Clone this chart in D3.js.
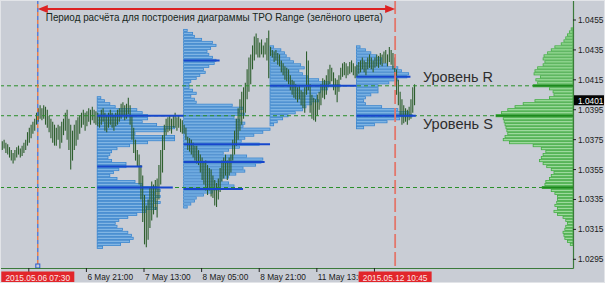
<!DOCTYPE html>
<html>
<head>
<meta charset="utf-8">
<script src="https://cdn.jsdelivr.net/npm/d3@7"></script>
<style>
    body { margin: 0; background: #c9cdd5; }
    svg { display: block; font-family: "Liberation Sans", Arial, sans-serif; }
</style>
</head>
<body>
<svg id="chart" width="605" height="283"></svg>
<script>
// Bars (M30), price x 10000
const barHigh = [
    10375,10374,10375,10373,10372,10370,10368,10366,10368,10370,10371,10369,10371,10373,10375,10380,10383,10385,10387,10389,10393,
    10396,10398,10396,10398,10397,10395,10391,10389,10387,10385,10383,10385,10384,10387,10389,10393,10395,10389,10385,10381,10385,10388,10390,10391,10393,10395,10393,10394,10396,10395,10397,10395,10394,
    10393,10391,10395,10396,10393,10391,10393,10395,10393,10391,10393,10395,10396,10399,10400,10398,10399,10403,10398,10391,10383,10375,10368,10365,10358,10351,10338,10331,10335,10343,10347,10345,10348,10349,10358,10368,10378,10385,10389,10390,10391,10389,10391,10393,10390,10391,10389,10388,
    10385,10383,10377,10376,10375,10373,10371,10371,10368,10365,10363,10360,10361,10358,10356,10355,10351,10348,10346,10349,10356,10361,10363,10365,10361,10363,10365,10375,10381,10389,10396,10402,10407,10410,10413,10422,10430,10432,10438,10444,10446,10443,10440,10442,10438,10440,10443,10448,
    10437,10435,10434,10435,10433,10432,10428,10426,10424,10423,10422,10418,10415,10414,10412,10410,10411,10408,10407,10410,10434,10428,10412,10405,10403,10402,10405,10407,10412,10416,10415,10418,10422,10425,10423,10420,10416,10415,10418,10423,10426,10427,10426,10424,10427,10428,10426,10424,
    10425,10427,10428,10430,10428,10427,10430,10432,10430,10428,10430,10432,10431,10433,10432,10434,10435,10432,10437,10435,10433,10430,10422,10415,10407,10402,10398,10396,10395,10397,10402,10410,10412
];
const barLow = [
    10367,10368,10369,10366,10365,10363,10361,10359,10361,10363,10365,10363,10364,10366,10368,10371,10373,10376,10379,10381,10385,
    10387,10389,10388,10389,10385,10383,10380,10376,10373,10371,10371,10375,10369,10373,10378,10381,10375,10368,10355,10361,10368,10371,10375,10379,10383,10385,10381,10384,10387,10385,10388,10386,10385,
    10384,10383,10385,10387,10381,10380,10383,10385,10383,10381,10384,10385,10387,10389,10391,10388,10389,10392,10385,10375,10366,10361,10357,10345,10335,10320,10305,10303,10308,10316,10321,10325,10328,10323,10335,10345,10353,10368,10378,10380,10381,10379,10383,10383,10381,10383,10380,10379,
    10379,10375,10368,10367,10365,10363,10361,10359,10358,10353,10348,10345,10341,10338,10341,10337,10336,10331,10330,10335,10340,10347,10349,10351,10348,10351,10353,10361,10365,10371,10375,10381,10385,10389,10393,10402,10407,10412,10422,10428,10432,10430,10430,10432,10430,10432,10428,10416,
    10431,10430,10427,10428,10425,10424,10420,10418,10415,10414,10412,10408,10405,10403,10402,10400,10402,10398,10396,10393,10405,10408,10393,10389,10388,10387,10391,10395,10398,10403,10402,10405,10410,10412,10414,10408,10405,10400,10407,10415,10417,10418,10416,10418,10419,10420,10418,10416,
    10417,10419,10420,10422,10420,10418,10422,10423,10422,10420,10423,10424,10423,10425,10424,10426,10426,10424,10427,10425,10422,10417,10405,10398,10391,10385,10386,10387,10385,10388,10389,10393,10398
];
const lastPrice = 1.0401;

// Time axis (bar index -> label)
const timeTickIndex = [16, 48, 80, 112, 144, 176, 208];
const timeTickLabels = ["6 May 05:00", "6 May 21:00", "7 May 13:00", "8 May 05:00", "8 May 21:00", "11 May 13:00", "12 May 05:00"];
const priceTicks = [1.0455, 1.0435, 1.0415, 1.0395, 1.0375, 1.0355, 1.0335, 1.0315, 1.0295];

// Calculation period (bar index)
const periodStart = 21, periodEnd = 219.5;
const periodLabels = ["2015.05.06 07:30", "2015.05.12 10:45"];
const periodTitle = "Период расчёта для построения диаграммы TPO Range (зелёного цвета)";

// Daily TPO profiles (counts per 0.0002 level, from the top)
const dayStart = [54, 102, 150, 198];
const dayTop = [1.0403, 1.0448, 1.0437, 1.0437];
const tpoMay7 = [2,4,7,10,22,25,28,28,25,33,43,38,21,43,43,28,18,11,8,7,6,8,16,16,12,9,7,11,21,25,33,35,32,35,32,35,31,33,27,22,17,12,10,11,14,17,19,20,18,13,3];
const tpoMay8 = [2,5,6,10,16,18,15,13,14,16,18,17,14,11,12,9,7,4,3,3,5,7,4,6,7,27,33,31,34,28,31,34,33,48,44,39,34,32,42,31,25,22,35,44,43,40,33,34,29,25,21,25,28,19,16,11,7,6,4,2];
const tpoMay11 = [2,6,8,9,11,13,17,19,16,18,21,27,33,39,32,28,26,26,27,23,20,18,14,10,7,4,2];
const tpoMay12 = [2,5,8,11,14,14,17,23,25,29,28,23,18,12,12,12,8,5,4,5,14,23,29,31,24,17,10,4];
const pocMay7 = [[1.0391, 48], [1.0357, 25], [1.0343, 42]];
const pocMay8 = [[1.0428, 20], [1.0372, 48], [1.0360, 45], [1.0342, 33]];
const pocMay11 = [[1.0411, 48]];
const pocMay12 = [[1.0417, 30], [1.0391, 33]];

// TPO Range profile over the whole period (green)
const rangeTop = 1.0449;
const rangeTpo = [2,4,6,8,10,13,20,24,28,32,33,31,33,39,42,43,36,41,39,44,26,22,21,26,42,55,64,72,79,85,77,76,75,74,73,72,75,77,70,44,35,30,33,35,37,33,29,24,21,24,26,30,31,34,24,20,17,17,18,20,17,21,17,11,8,6,8,9,11,10,9,6,3];
const rangePoc = [[1.0411, 44], [1.0391, 85], [1.0343, 34]];
const levelR = 1.0411, levelS = 1.0391, levelLow = 1.0343;

const tpoStep = 0.0002;
const plotRight = 573, plotBottom = 268;

const svg = d3.select("#chart");
const x = d3.scaleLinear().domain([0, 318.3]).range([0, plotRight]);
const y = d3.scaleLinear().domain([1.0295, 1.0455]).range([259.3, 20]);
const rangeX = d3.scaleLinear().domain([0, 85]).range([0, 77]);

svg.append("rect").attr("width", 605).attr("height", 283).attr("fill", "#c9cdd5");

// Daily profiles
const profiles = [
    {start: dayStart[0], top: dayTop[0], counts: tpoMay7, poc: pocMay7},
    {start: dayStart[1], top: dayTop[1], counts: tpoMay8, poc: pocMay8},
    {start: dayStart[2], top: dayTop[2], counts: tpoMay11, poc: pocMay11},
    {start: dayStart[3], top: dayTop[3], counts: tpoMay12, poc: pocMay12}
];
const gProf = svg.append("g");
profiles.forEach(pf => {
    gProf.selectAll(null)
        .data(pf.counts)
        .enter().append("rect")
        .attr("x", x(pf.start))
        .attr("y", (d, k) => y(pf.top - k * tpoStep) - 1.1)
        .attr("width", d => x(pf.start + d) - x(pf.start))
        .attr("height", 2.2)
        .attr("fill", "#80b5e4")
        .attr("stroke", "#3a86cf")
        .attr("stroke-width", 0.8);
});

// Bars
svg.append("g").selectAll("line")
    .data(barHigh)
    .enter().append("line")
    .attr("x1", (d, i) => x(i) + 0.5)
    .attr("x2", (d, i) => x(i) + 0.5)
    .attr("y1", d => y(d / 10000))
    .attr("y2", (d, i) => y(barLow[i] / 10000))
    .attr("stroke", "#2e5f2e")
    .attr("stroke-width", 1.1);

// Levels
svg.append("g").selectAll("line")
    .data([levelR, levelS, levelLow])
    .enter().append("line")
    .attr("x1", 0).attr("x2", plotRight)
    .attr("y1", d => y(d)).attr("y2", d => y(d))
    .attr("stroke", "#2a8f2a")
    .attr("stroke-dasharray", "4,3");

// POC lines of the days
profiles.forEach(pf => {
    svg.append("g").selectAll("line")
        .data(pf.poc)
        .enter().append("line")
        .attr("x1", x(pf.start))
        .attr("x2", d => x(pf.start + d[1]))
        .attr("y1", d => y(d[0])).attr("y2", d => y(d[0]))
        .attr("stroke", "#1747cc")
        .attr("stroke-width", 2);
});

// Green range profile
const gRange = svg.append("g");
gRange.selectAll("rect")
    .data(rangeTpo)
    .enter().append("rect")
    .attr("x", d => plotRight - rangeX(d))
    .attr("y", (d, k) => y(rangeTop - k * tpoStep) - 1.1)
    .attr("width", d => rangeX(d))
    .attr("height", 2.2)
    .attr("fill", "#9cd99c")
    .attr("stroke", "#42ad42")
    .attr("stroke-width", 0.8);
gRange.selectAll("line")
    .data(rangePoc)
    .enter().append("line")
    .attr("x1", d => plotRight - rangeX(d[1]))
    .attr("x2", plotRight)
    .attr("y1", d => y(d[0])).attr("y2", d => y(d[0]))
    .attr("stroke", "#1d8a1d")
    .attr("stroke-width", 2);

// Period lines
const xs = x(periodStart), xe = x(periodEnd);
svg.append("line").attr("x1", xs).attr("x2", xs).attr("y1", 0).attr("y2", plotBottom)
    .attr("stroke", "#3b6ad6").attr("stroke-width", 1.2).attr("stroke-dasharray", "4,4");
svg.append("line").attr("x1", xs).attr("x2", xs).attr("y1", 0).attr("y2", plotBottom)
    .attr("stroke", "#ef6a2a").attr("stroke-width", 1.2).attr("stroke-dasharray", "4,4").attr("stroke-dashoffset", 4);
svg.append("line").attr("x1", xe).attr("x2", xe).attr("y1", 0).attr("y2", plotBottom)
    .attr("stroke", "#e2776c").attr("stroke-width", 1.8).attr("stroke-dasharray", "14,4");
svg.append("rect").attr("x", xs - 2).attr("y", 264).attr("width", 4).attr("height", 4)
    .attr("fill", "#c9cdd5").attr("stroke", "#2a5ad0").attr("stroke-width", 1);

// Arrow over the period
svg.append("line").attr("x1", xs + 6).attr("x2", xe - 6).attr("y1", 9).attr("y2", 9)
    .attr("stroke", "#dd2323").attr("stroke-width", 2);
svg.append("path").attr("d", `M${xs},9 L${xs + 10},5 L${xs + 10},13 Z`).attr("fill", "#dd2323");
svg.append("path").attr("d", `M${xe},9 L${xe - 10},5 L${xe - 10},13 Z`).attr("fill", "#dd2323");
svg.append("text").attr("x", xs + 8).attr("y", 20.5)
    .attr("font-size", 10.5).attr("fill", "#16261a")
    .attr("textLength", 337).attr("lengthAdjust", "spacingAndGlyphs")
    .text(periodTitle);

// Level captions
svg.append("text").attr("x", 423).attr("y", y(levelR) - 4)
    .attr("font-size", 15).attr("fill", "#2e2e2e")
    .attr("textLength", 70).attr("lengthAdjust", "spacingAndGlyphs")
    .text("Уровень R");
svg.append("text").attr("x", 423).attr("y", y(levelS) + 13)
    .attr("font-size", 15).attr("fill", "#2e2e2e")
    .attr("textLength", 70).attr("lengthAdjust", "spacingAndGlyphs")
    .text("Уровень S");

// Axes
svg.append("line").attr("x1", plotRight + 0.5).attr("x2", plotRight + 0.5).attr("y1", 0).attr("y2", plotBottom + 0.5)
    .attr("stroke", "#3b7a3b").attr("stroke-width", 1.2);
svg.append("line").attr("x1", 0).attr("x2", plotRight + 0.5).attr("y1", plotBottom + 0.5).attr("y2", plotBottom + 0.5)
    .attr("stroke", "#3b7a3b").attr("stroke-width", 1.2);

const gy = svg.append("g");
gy.selectAll("line").data(priceTicks).enter().append("line")
    .attr("x1", plotRight).attr("x2", plotRight + 3)
    .attr("y1", d => y(d)).attr("y2", d => y(d))
    .attr("stroke", "#222");
gy.selectAll("text").data(priceTicks).enter().append("text")
    .attr("x", plotRight + 5).attr("y", d => y(d) + 3)
    .attr("font-size", 8.3).attr("fill", "#1a1a1a")
    .text(d => d.toFixed(4));

const gx = svg.append("g");
gx.selectAll("line").data(timeTickIndex).enter().append("line")
    .attr("x1", d => x(d)).attr("x2", d => x(d))
    .attr("y1", plotBottom).attr("y2", plotBottom + 4)
    .attr("stroke", "#222");

// Period label boxes on the time axis; a time label wholly under one is not drawn
const labelW = 73;
const boxes = [periodStart, periodEnd].map(p => [x(p) - labelW / 2, x(p) + labelW / 2]);
gx.selectAll("text").data(timeTickIndex).enter().append("text")
    .attr("x", d => x(d) + 1).attr("y", 280)
    .attr("font-size", 8.3).attr("fill", "#1a1a1a")
    .text((d, i) => timeTickLabels[i])
    .each(function(d) {
        const x0 = x(d) + 1, x1 = x0 + this.getComputedTextLength();
        if (boxes.some(b => x0 >= b[0] && x1 <= b[1] + 6)) d3.select(this).remove();
    });

[periodStart, periodEnd].forEach((p, i) => {
    const cx = x(p);
    svg.append("rect").attr("x", cx - labelW / 2).attr("y", 271.5).attr("width", labelW).attr("height", 11.5)
        .attr("fill", "#e2262b");
    svg.append("text").attr("x", cx).attr("y", 280.5).attr("text-anchor", "middle")
        .attr("font-size", 8.3).attr("fill", "#fbe4e4")
        .text(periodLabels[i]);
});

// Current price label
svg.append("rect").attr("x", plotRight + 1).attr("y", y(lastPrice) - 5.5).attr("width", 30).attr("height", 10)
    .attr("fill", "#050505");
svg.append("text").attr("x", plotRight + 5).attr("y", y(lastPrice) + 3)
    .attr("font-size", 8.3).attr("fill", "#ffffff")
    .text(lastPrice.toFixed(4));

// Screenshot frame
svg.append("rect").attr("x", 0.5).attr("y", 0.5).attr("width", 604).attr("height", 282)
    .attr("fill", "none").attr("stroke", "#e2e4e8").attr("stroke-width", 1);
</script>
</body>
</html>
